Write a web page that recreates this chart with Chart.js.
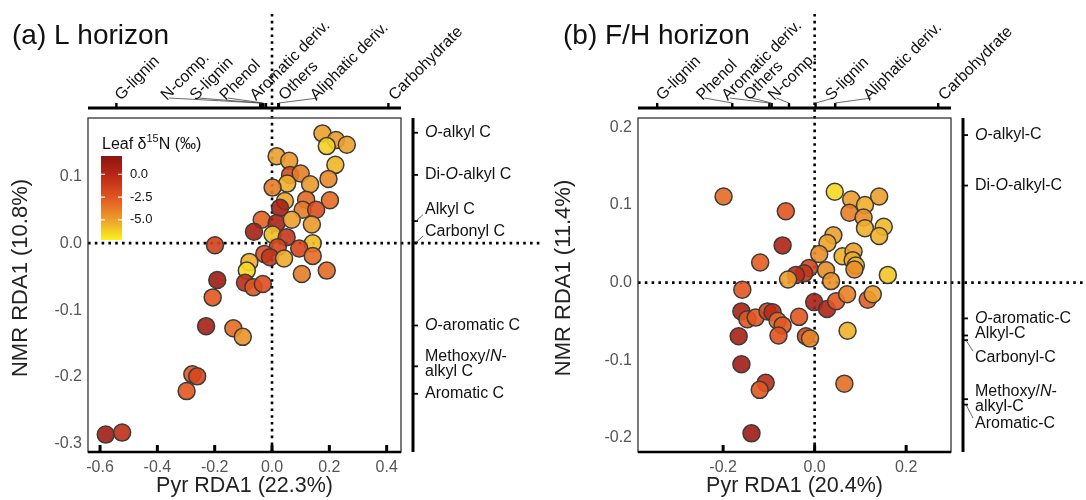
<!DOCTYPE html>
<html>
<head>
<meta charset="utf-8">
<script src="https://cdn.jsdelivr.net/npm/chart.js@4.4.1/dist/chart.umd.min.js"></script>
<style>
  body { margin: 0; background: #fff; }
  #wrap { position: relative; width: 1086px; height: 500px; }
  canvas { position: absolute; top: 0; }
</style>
</head>
<body>
<div id="wrap">
  <canvas id="chartL" width="543" height="500" style="left:0"></canvas>
  <canvas id="chartF" width="543" height="500" style="left:543px"></canvas>
</div>
<script>
// ---- (a) L horizon: site scores ----
const lX = [0.176, 0.223, 0.191, 0.261, 0.221, 0.197, 0.016, 0.060, 0.063, 0.100, 0.053, 0.133, 0.002, 0.202,
  0.045, 0.119, 0.028, 0.107, 0.154, -0.036, 0.016, 0.069, 0.139, -0.063, 0.002, 0.051, -0.199, 0.142, 0.095,
  0.020, -0.027, -0.007, 0.042, 0.142, -0.079, -0.088, 0.104, 0.191, -0.191, -0.094, -0.065, -0.032, -0.207,
  -0.230, -0.135, -0.102, -0.278, -0.261, -0.298, -0.580, -0.523];
const lY = [0.164, 0.154, 0.145, 0.147, 0.117, 0.096, 0.130, 0.123, 0.102, 0.104, 0.089, 0.088, 0.083, 0.064,
  0.063, 0.065, 0.053, 0.050, 0.050, 0.035, 0.030, 0.035, 0.028, 0.017, 0.013, 0.009, -0.003, 0.000, -0.008,
  -0.006, -0.016, -0.021, -0.023, -0.019, -0.028, -0.041, -0.046, -0.041, -0.055, -0.059, -0.066, -0.061, -0.081,
  -0.124, -0.127, -0.140, -0.196, -0.199, -0.221, -0.286, -0.283];
const lN = [-5.0, -4.8, -6.3, -5.0, -5.6, -4.3, -5.0, -4.8, -2.0, -3.8, -5.4, -4.8, -3.8, -3.3,
  -5.2, -3.2, 0.8, -3.8, -2.2, -3.0, 0.5, -5.0, -4.8, 0.8, -5.8, -0.8, -1.5, -5.8, -1.8,
  -1.8, -2.2, -0.8, -5.3, -3.3, -5.4, -6.5, -3.8, -3.3, 1.2, -0.3, -2.6, -2.2, -2.6,
  0.8, -3.3, -4.6, -2.6, -1.8, -2.6, 1.0, -0.5];

// ---- (b) F/H horizon: site scores ----
const fX = [-0.199, -0.063, -0.070, -0.119, 0.044, 0.080, 0.110, 0.141, 0.076, 0.107, 0.110, 0.151, 0.141,
  0.041, 0.028, 0.010, 0.061, 0.085, 0.083, 0.090, 0.087, 0.160, -0.012, -0.023, -0.041, 0.025, -0.058, 0.036,
  -0.158, -0.001, 0.027, 0.047, 0.071, 0.116, 0.127, -0.160, -0.147, -0.129, -0.103, -0.092, -0.081, -0.070,
  -0.079, -0.034, -0.019, -0.010, -0.166, 0.072, -0.160, -0.107, -0.120, 0.065, -0.138];
const fY = [0.111, 0.092, 0.048, 0.026, 0.117, 0.107, 0.100, 0.111, 0.090, 0.084, 0.070, 0.072, 0.060,
  0.061, 0.051, 0.037, 0.034, 0.040, 0.029, 0.022, 0.017, 0.010, 0.019, 0.012, 0.010, 0.016, 0.004, 0.002,
  -0.009, -0.025, -0.034, -0.024, -0.015, -0.022, -0.015, -0.037, -0.047, -0.045, -0.037, -0.038, -0.049, -0.055,
  -0.068, -0.044, -0.069, -0.072, -0.069, -0.062, -0.105, -0.129, -0.138, -0.130, -0.194];
const fN = [-3.3, -2.5, 0.3, -2.8, -6.5, -4.9, -5.4, -5.0, -3.9, -4.4, -5.4, -5.7, -5.5,
  -5.0, -5.1, -4.4, -5.4, -5.0, -5.3, -5.8, -4.4, -6.0, -1.8, -0.8, -0.4, -4.4, -4.9, -4.6,
  -2.6, 0.6, 0.3, -2.6, -4.0, -2.8, -5.0, 0.6, -2.6, -2.6, -1.8, -0.2, -3.3, -2.6,
  -2.4, -2.6, -1.8, -4.1, 0.6, -5.5, 1.0, -0.4, -2.6, -3.4, 1.2];

// ---- pyrolysis compound loadings (top axis) and where their labels start ----
const pyrNamesL = ['G-lignin', 'N-comp.', 'S-lignin', 'Phenol', 'Aromatic deriv.', 'Others', 'Aliphatic deriv.', 'Carbohydrate'];
const pyrLoadL  = [-0.543, -0.041, -0.036, -0.030, -0.021, 0.022, 0.024, 0.406];
const pyrTextL  = [-0.527, -0.366, -0.265, -0.161, -0.056, 0.044, 0.154, 0.428];

const pyrNamesF = ['G-lignin', 'Phenol', 'Aromatic deriv.', 'Others', 'N-comp.', 'S-lignin', 'Aliphatic deriv.', 'Carbohydrate'];
const pyrLoadF  = [-0.344, -0.180, -0.099, -0.094, -0.056, 0.002, 0.045, 0.270];
const pyrTextF  = [-0.333, -0.245, -0.190, -0.142, -0.088, 0.037, 0.120, 0.284];

// ---- NMR carbon loadings (right axis), _x_ = italic ----
const nmrNamesL = ['_O_-alkyl C', 'Di-_O_-alkyl C', 'Alkyl C', 'Carbonyl C', '_O_-aromatic C', 'Methoxy/_N_-\nalkyl C', 'Aromatic C'];
const nmrLoadL  = [0.165, 0.102, 0.033, 0.001, -0.123, -0.184, -0.225];
const nmrTextL  = [0.165, 0.102, 0.050, 0.018, -0.123, -0.181, -0.225];

const nmrNamesF = ['_O_-alkyl-C', 'Di-_O_-alkyl-C', '_O_-aromatic-C', 'Alkyl-C', 'Carbonyl-C', 'Methoxy/_N_-\nalkyl-C', 'Aromatic-C'];
const nmrLoadF  = [0.190, 0.125, -0.046, -0.068, -0.074, -0.150, -0.157];
const nmrTextF  = [0.190, 0.125, -0.046, -0.066, -0.096, -0.150, -0.182];

const xTicksL = [-0.6, -0.4, -0.2, 0.0, 0.2, 0.4];
const yTicksL = [-0.3, -0.2, -0.1, 0.0, 0.1];
const xTicksF = [-0.2, 0.0, 0.2];
const yTicksF = [-0.2, -0.1, 0.0, 0.1, 0.2];

const legendTicks = [0.0, -2.5, -5.0];

const FONT = '"Liberation Sans", Arial, Helvetica, sans-serif';

// heat colour scale for leaf d15N
const heatStops = [[2.0, [140, 22, 18]], [0, [182, 38, 22]], [-2.5, [226, 84, 32]], [-5, [236, 160, 44]], [-7.2, [250, 242, 30]]];
function heatRGB(v) {
  if (v >= heatStops[0][0]) return heatStops[0][1];
  for (let i = 1; i < heatStops.length; i++) {
    const [v1, c1] = heatStops[i - 1], [v2, c2] = heatStops[i];
    if (v >= v2) {
      const t = (v1 - v) / (v1 - v2);
      return c1.map((c, k) => Math.round(c + (c2[k] - c) * t));
    }
  }
  return heatStops[heatStops.length - 1][1];
}
const heat = (v, a = 0.9) => `rgba(${heatRGB(v).join(',')},${a})`;

function drawRich(ctx, text, x, y, size) {
  let cx = x;
  text.split('_').forEach((p, i) => {
    ctx.font = (i % 2 ? 'italic ' : '') + size + 'px ' + FONT;
    ctx.fillText(p, cx, y);
    cx += ctx.measureText(p).width;
  });
}

function dotted(ctx, x1, y1, x2, y2) {
  ctx.save();
  ctx.strokeStyle = '#000';
  ctx.lineWidth = 2.6;
  ctx.setLineDash([2.6, 4.2]);
  ctx.beginPath(); ctx.moveTo(x1, y1); ctx.lineTo(x2, y2); ctx.stroke();
  ctx.restore();
}

function panelPlugin(o) {
  return {
    id: 'panel',
    beforeDatasetsDraw(chart) {
      const { ctx, chartArea: a, scales: { x, y } } = chart;
      const x0 = x.getPixelForValue(0), y0 = y.getPixelForValue(0);
      dotted(ctx, x0, 14, x0, a.bottom);
      dotted(ctx, a.left, y0, chart.width, y0);
    },
    afterDraw(chart) {
      const { ctx, chartArea: a, scales: { x, y } } = chart;
      ctx.save();
      // plot box
      ctx.strokeStyle = '#333'; ctx.lineWidth = 1.3;
      ctx.strokeRect(a.left, a.top, a.right - a.left, a.bottom - a.top);
      // bottom axis with inward ticks
      ctx.strokeStyle = '#000'; ctx.lineWidth = 2.6;
      ctx.beginPath(); ctx.moveTo(a.left, a.bottom); ctx.lineTo(a.right, a.bottom); ctx.stroke();
      ctx.lineWidth = 3;
      x.ticks.forEach(t => {
        const px = x.getPixelForValue(t.value);
        ctx.beginPath(); ctx.moveTo(px, a.bottom); ctx.lineTo(px, a.bottom - 7); ctx.stroke();
      });

      // y axis title, sitting a little above the panel centre
      ctx.save();
      ctx.fillStyle = '#222';
      ctx.font = '22px ' + FONT;
      ctx.textAlign = 'center'; ctx.textBaseline = 'middle';
      ctx.translate(21, (a.top + a.bottom) / 2 - 7);
      ctx.rotate(-Math.PI / 2);
      ctx.fillText(o.yTitle, 0, 0);
      ctx.restore();

      // top axis: pyrolysis loadings
      const ty = a.top - 10;
      ctx.lineWidth = 3;
      ctx.beginPath(); ctx.moveTo(a.left, ty); ctx.lineTo(a.right, ty); ctx.stroke();
      ctx.lineWidth = 2.4;
      o.pyrLoad.forEach(v => {
        const px = x.getPixelForValue(v);
        ctx.beginPath(); ctx.moveTo(px, ty); ctx.lineTo(px, ty - 5); ctx.stroke();
      });
      ctx.fillStyle = '#111';
      ctx.font = '16px ' + FONT;
      o.pyrNames.forEach((name, i) => {
        const tx = x.getPixelForValue(o.pyrText[i]);
        const px = x.getPixelForValue(o.pyrLoad[i]);
        const by = ty - 7;
        if (Math.abs(tx - px) > 12) {
          ctx.save();
          ctx.strokeStyle = '#444'; ctx.lineWidth = 0.8;
          ctx.beginPath(); ctx.moveTo(tx + 2, by - 3); ctx.lineTo(px, ty - 5); ctx.stroke();
          ctx.restore();
        }
        ctx.save();
        ctx.translate(tx, by);
        ctx.rotate(-Math.PI / 4);
        ctx.textAlign = 'left'; ctx.textBaseline = 'alphabetic';
        ctx.fillText(name, 0, 0);
        ctx.restore();
      });

      // right axis: NMR loadings
      const rx = a.right + 12;
      ctx.lineWidth = 3;
      ctx.beginPath(); ctx.moveTo(rx, a.top); ctx.lineTo(rx, a.bottom); ctx.stroke();
      ctx.lineWidth = 1.8;
      o.nmrLoad.forEach(v => {
        const py = y.getPixelForValue(v);
        ctx.beginPath(); ctx.moveTo(rx, py); ctx.lineTo(rx + 5, py); ctx.stroke();
      });
      ctx.textBaseline = 'middle'; ctx.textAlign = 'left';
      o.nmrNames.forEach((name, i) => {
        const ly = y.getPixelForValue(o.nmrText[i]);
        const py = y.getPixelForValue(o.nmrLoad[i]);
        if (Math.abs(ly - py) > 4) {
          ctx.save();
          ctx.strokeStyle = '#444'; ctx.lineWidth = 0.8;
          const ey = ly < py ? ly + 5 : ly - 6;
          ctx.beginPath(); ctx.moveTo(rx + 3, py); ctx.lineTo(rx + 10, ey); ctx.stroke();
          ctx.restore();
        }
        const lines = name.split('\n');
        lines.forEach((ln, k) => {
          drawRich(ctx, ln, rx + 12, ly + (k - (lines.length - 1) / 2) * 15, 16);
        });
      });

      // panel title
      ctx.fillStyle = '#111';
      ctx.textBaseline = 'alphabetic';
      ctx.font = '28px ' + FONT;
      ctx.fillText(o.title, o.titleX, 44);

      // colour key
      if (o.legend) {
        const bx = 101, bw = 21, bt = 156, bb = 240, vTop = 2.0, vBot = -7.2;
        const vy = v => bt + (vTop - v) / (vTop - vBot) * (bb - bt);
        const g = ctx.createLinearGradient(0, bt, 0, bb);
        heatStops.forEach(([v, c]) => g.addColorStop((vTop - v) / (vTop - vBot), `rgb(${c.join(',')})`));
        ctx.fillStyle = g;
        ctx.fillRect(bx, bt, bw, bb - bt);
        ctx.strokeStyle = '#fff'; ctx.lineWidth = 1.2;
        ctx.fillStyle = '#111';
        ctx.font = '13px ' + FONT;
        ctx.textBaseline = 'middle';
        legendTicks.forEach(v => {
          const py = vy(v);
          ctx.beginPath();
          ctx.moveTo(bx, py); ctx.lineTo(bx + 4, py);
          ctx.moveTo(bx + bw - 4, py); ctx.lineTo(bx + bw, py);
          ctx.stroke();
          ctx.fillText(v.toFixed(1), bx + bw + 8, py);
        });
        ctx.textBaseline = 'alphabetic';
        let cx = 102;
        ctx.font = '16px ' + FONT;
        ctx.fillText('Leaf δ', cx, 149); cx += ctx.measureText('Leaf δ').width;
        ctx.font = '11px ' + FONT;
        ctx.fillText('15', cx, 142); cx += ctx.measureText('15').width;
        ctx.font = '16px ' + FONT;
        ctx.fillText('N (‰)', cx, 149);
      }
      ctx.restore();
    }
  };
}

function makeChart(id, o) {
  return new Chart(document.getElementById(id), {
    type: 'scatter',
    data: {
      datasets: [{
        data: o.xs.map((v, i) => ({ x: v, y: o.ys[i] })),
        backgroundColor: o.ns.map(v => heat(v)),
        borderColor: '#3b3b3b',
        borderWidth: 1.5,
        pointRadius: 8.5,
        pointHoverRadius: 8.5
      }]
    },
    options: {
      responsive: false,
      animation: false,
      devicePixelRatio: 1,
      layout: { padding: { left: 0, right: o.padRight, top: 118, bottom: 0 } },
      plugins: { legend: { display: false }, tooltip: { enabled: false } },
      scales: {
        x: {
          type: 'linear', min: o.xMin, max: o.xMax,
          afterBuildTicks: s => { s.ticks = o.xTicks.map(v => ({ value: v })); },
          afterFit: s => { s.height = 48; },
          grid: { display: false, drawTicks: false },
          border: { display: false },
          ticks: { callback: v => v.toFixed(1), color: '#555', font: { size: 16, family: FONT }, padding: 6, maxRotation: 0 },
          title: { display: true, text: o.xTitle, color: '#222', font: { size: 21.5, family: FONT }, padding: { top: 0, bottom: 1 } }
        },
        y: {
          type: 'linear', min: o.yMin, max: o.yMax,
          afterBuildTicks: s => { s.ticks = o.yTicks.map(v => ({ value: v })); },
          afterFit: s => { s.width = o.yWidth; },
          grid: { display: false, drawTicks: false },
          border: { display: false },
          ticks: { callback: v => v.toFixed(1), color: '#555', font: { size: 16, family: FONT }, padding: 6 }
        }
      }
    },
    plugins: [panelPlugin(o)]
  });
}

makeChart('chartL', {
  xs: lX, ys: lY, ns: lN,
  xMin: -0.642, xMax: 0.45, yMin: -0.312, yMax: 0.187,
  xTicks: xTicksL, yTicks: yTicksL, yWidth: 88, padRight: 142,
  xTitle: 'Pyr RDA1 (22.3%)', yTitle: 'NMR RDA1 (10.8%)',
  pyrNames: pyrNamesL, pyrLoad: pyrLoadL, pyrText: pyrTextL,
  nmrNames: nmrNamesL, nmrLoad: nmrLoadL, nmrText: nmrTextL,
  title: '(a) L horizon', titleX: 12, legend: true
});

makeChart('chartF', {
  xs: fX, ys: fY, ns: fN,
  xMin: -0.386, xMax: 0.298, yMin: -0.218, yMax: 0.212,
  xTicks: xTicksF, yTicks: yTicksF, yWidth: 95, padRight: 135,
  xTitle: 'Pyr RDA1 (20.4%)', yTitle: 'NMR RDA1 (11.4%)',
  pyrNames: pyrNamesF, pyrLoad: pyrLoadF, pyrText: pyrTextF,
  nmrNames: nmrNamesF, nmrLoad: nmrLoadF, nmrText: nmrTextF,
  title: '(b) F/H horizon', titleX: 20, legend: false
});
</script>
</body>
</html>
